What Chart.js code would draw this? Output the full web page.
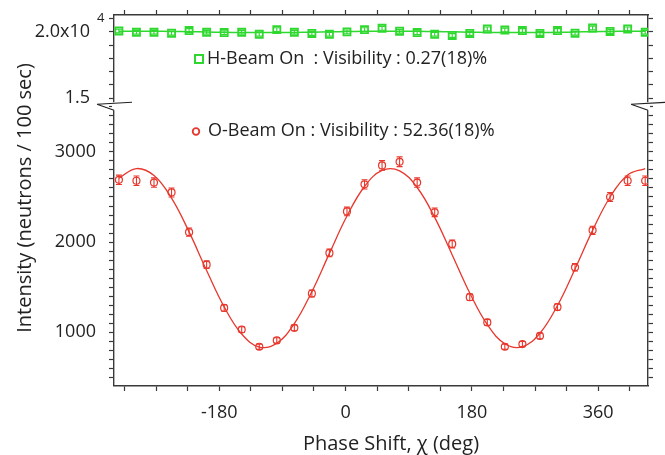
<!DOCTYPE html>
<html>
<head>
<meta charset="utf-8">
<script src="https://cdn.jsdelivr.net/npm/chart.js@4.4.1/dist/chart.umd.min.js"></script>
<style>
  html, body { margin: 0; padding: 0; background: #fff; overflow: hidden; }
  #wrap { position: relative; width: 665px; height: 455px; }
  canvas { display: block; }
</style>
</head>
<body>
<div id="wrap"><canvas id="chart" width="665" height="455"></canvas></div>
<script>
// phase shift positions (deg)
const phase = [-323, -298, -273, -248, -223, -198, -173, -148, -123, -98, -73, -48, -23, 2, 27, 52,
               77, 102, 127, 152, 177, 202, 227, 252, 277, 302, 327, 352, 377, 402, 427];

// O-beam counts / 100 sec
const oBeam = [2690, 2680, 2660, 2550, 2110, 1750, 1270, 1030, 840, 910, 1050, 1430, 1880, 2340, 2640, 2850,
               2890, 2660, 2330, 1980, 1390, 1110, 840, 870, 960, 1280, 1720, 2130, 2500, 2680, 2680];
const oBeamErr = [52, 52, 52, 50, 46, 42, 36, 32, 29, 30, 32, 38, 43, 48, 51, 53,
                  54, 52, 48, 44, 37, 33, 29, 29, 31, 36, 41, 46, 50, 52, 52];
// fitted curve read at the same phases
const oBeamFit = [2708, 2815, 2737, 2487, 2113, 1685, 1282, 981, 837, 879, 1097, 1451, 1875, 2289, 2616, 2794,
                  2790, 2605, 2274, 1858, 1435, 1085, 874, 840, 990, 1297, 1702, 2130, 2500, 2744, 2815];

// H-beam counts / 100 sec
const hBeam = [20060, 19960, 19960, 19890, 20090, 19960, 19940, 19960, 19810, 20160, 19960, 19870, 19810, 19990, 20160, 20260,
               20040, 19940, 19810, 19720, 19870, 20210, 20130, 20090, 19870, 20090, 19890, 20280, 20020, 20210, 19960];
const hBeamErr = [141, 141, 141, 141, 142, 141, 141, 141, 141, 142, 141, 141, 141, 141, 142, 142,
                  142, 141, 141, 140, 141, 142, 142, 142, 141, 142, 141, 142, 141, 142, 141];
const hBeamFit = [20038, 20044, 20040, 20026, 20006, 19982, 19961, 19944, 19936, 19939, 19951, 19970, 19993, 20015, 20033, 20043,
                  20043, 20033, 20015, 19992, 19969, 19950, 19938, 19937, 19945, 19961, 19983, 20007, 20027, 20040, 20044];

// tick labels
const xLabelTicks = [-180, 0, 180, 360];
const lowLabelTicks = [1000, 2000, 3000];
const topTicks = [15000, 16000, 17000, 18000, 19000, 20000, 21000];
const topLabelTicks = [15000, 20000];
const topLabelText = ['1.5', '2.0x10'];

const RED = '#e8372c';
const GREEN = '#2ed82e';
const AXIS = '#3a3a3a';
const FONT = 'Open Sans';

const pts = vals => phase.map((x, i) => ({ x: x, y: vals[i] }));

// fixed axis thickness, no automatic label padding
function fixSize(w, h) {
    return s => {
        if (w !== null) s.width = w;
        if (h !== null) s.height = h;
        s.paddingTop = 0; s.paddingBottom = 0; s.paddingLeft = 0; s.paddingRight = 0;
    };
}

function axisBase(extra) {
    return Object.assign({
        grid: { drawOnChartArea: false, drawTicks: true, tickLength: 5, color: AXIS, tickWidth: 1.2 },
        border: { display: true, color: AXIS, width: 1.4 }
    }, extra);
}

const blank = () => '';
const setTopTicks = s => { s.ticks = topTicks.map(v => ({ value: v })); };

const errorBars = {
    id: 'errorBars',
    afterDatasetsDraw(chart) {
        const ctx = chart.ctx;
        ctx.save();
        chart.data.datasets.forEach((ds, i) => {
            if (!ds.errors) return;
            const meta = chart.getDatasetMeta(i);
            const ys = chart.scales[ds.yAxisID];
            ctx.strokeStyle = ds.borderColor;
            ctx.lineWidth = 1.1;
            meta.data.forEach((p, j) => {
                const v = ds.data[j].y;
                const e = ds.errors[j];
                const y1 = ys.getPixelForValue(v + e);
                const y2 = ys.getPixelForValue(v - e);
                ctx.beginPath();
                ctx.moveTo(p.x, y1); ctx.lineTo(p.x, y2);
                ctx.moveTo(p.x - 3, y1); ctx.lineTo(p.x + 3, y1);
                ctx.moveTo(p.x - 3, y2); ctx.lineTo(p.x + 3, y2);
                ctx.stroke();
            });
        });
        ctx.restore();
    }
};

const decor = {
    id: 'decor',
    afterDraw(chart) {
        const ctx = chart.ctx;
        const a = chart.chartArea;
        const cut = chart.scales.yTop.bottom;
        ctx.save();

        // axis breaks
        [a.left, a.right].forEach(x => {
            ctx.fillStyle = '#fff';
            ctx.fillRect(x - 2, cut - 2, 4, 8);
            ctx.strokeStyle = '#222';
            ctx.lineWidth = 1.2;
            ctx.beginPath();
            ctx.moveTo(x - 17, cut);
            ctx.lineTo(x + 18, cut - 2);
            ctx.moveTo(x - 17, cut);
            ctx.lineTo(x, cut + 6);
            ctx.stroke();
        });

        ctx.fillStyle = '#222';
        // exponent of the top tick label
        ctx.font = '13px "' + FONT + '"';
        ctx.textAlign = 'left';
        ctx.textBaseline = 'alphabetic';
        ctx.fillText('4', 97, 22);

        // in-plot labels
        ctx.font = '18px "' + FONT + '"';
        ctx.textBaseline = 'middle';
        ctx.fillText('H-Beam On  : Visibility : 0.27(18)%', 207, 59);
        ctx.fillText('O-Beam On : Visibility : 52.36(18)%', 208, 131);
        ctx.strokeStyle = GREEN;
        ctx.lineWidth = 2;
        ctx.strokeRect(195, 55, 8, 8);
        ctx.strokeStyle = RED;
        ctx.lineWidth = 1.8;
        ctx.beginPath();
        ctx.arc(196, 131.5, 3.3, 0, Math.PI * 2);
        ctx.stroke();

        // axis titles
        ctx.font = '20px "' + FONT + '"';
        ctx.textAlign = 'center';
        ctx.textBaseline = 'alphabetic';
        ctx.fillText('Phase Shift, \u03c7 (deg)', 391, 450);
        ctx.translate(31, 198);
        ctx.rotate(-Math.PI / 2);
        ctx.fillText('Intensity (neutrons / 100 sec)', 0, 0);
        ctx.restore();
    }
};

const tickFont = { family: FONT, size: 18 };

new Chart(document.getElementById('chart'), {
    data: {
        datasets: [
            {
                type: 'line', label: 'H fit', data: pts(hBeamFit), xAxisID: 'x', yAxisID: 'yTop',
                borderColor: GREEN, borderWidth: 1.5, pointRadius: 0, tension: 0.4
            },
            {
                type: 'line', label: 'H-Beam On', data: pts(hBeam), errors: hBeamErr, xAxisID: 'x', yAxisID: 'yTop',
                showLine: false, pointStyle: 'rect', pointRadius: 5, borderColor: GREEN, borderWidth: 1.8,
                backgroundColor: 'rgba(0,0,0,0)'
            },
            {
                type: 'line', label: 'O fit', data: pts(oBeamFit), xAxisID: 'x', yAxisID: 'yLow',
                borderColor: RED, borderWidth: 1.3, pointRadius: 0, tension: 0.4
            },
            {
                type: 'line', label: 'O-Beam On', data: pts(oBeam), errors: oBeamErr, xAxisID: 'x', yAxisID: 'yLow',
                showLine: false, pointStyle: 'circle', pointRadius: 3.5, borderColor: RED, borderWidth: 1.2,
                backgroundColor: 'rgba(0,0,0,0)'
            }
        ]
    },
    options: {
        responsive: false,
        animation: false,
        devicePixelRatio: 1,
        layout: { padding: 0, autoPadding: false },
        plugins: { legend: { display: false }, tooltip: { enabled: false } },
        scales: {
            x: axisBase({
                type: 'linear', position: 'bottom', min: -330, max: 431,
                ticks: { stepSize: 45, includeBounds: false, autoSkip: false, maxRotation: 0, padding: 11,
                         color: '#222', font: tickFont,
                         callback: v => xLabelTicks.includes(v) ? String(v) : '' },
                afterFit: fixSize(null, 69)
            }),
            x2: axisBase({
                type: 'linear', axis: 'x', position: 'top', min: -330, max: 431,
                ticks: { stepSize: 45, includeBounds: false, autoSkip: false, maxRotation: 0, callback: blank },
                afterFit: fixSize(null, 15)
            }),
            yLow: axisBase({
                type: 'linear', axis: 'y', position: 'left', stack: 'left', stackWeight: 282, min: 405, max: 3528,
                ticks: { stepSize: 100, includeBounds: false, autoSkip: false, padding: 13, color: '#222', font: tickFont,
                         callback: v => lowLabelTicks.includes(v) ? String(v) : '' },
                afterFit: fixSize(114, null)
            }),
            yTop: axisBase({
                type: 'linear', axis: 'y', position: 'left', stack: 'left', stackWeight: 89.3, min: 14550, max: 21260,
                afterBuildTicks: setTopTicks,
                ticks: { autoSkip: false, padding: 19, color: '#222', font: tickFont,
                         callback: v => { const k = topLabelTicks.indexOf(v); return k >= 0 ? topLabelText[k] : ''; } },
                afterFit: fixSize(114, null)
            }),
            yTopR: axisBase({
                type: 'linear', axis: 'y', position: 'right', stack: 'right', stackWeight: 89.3, min: 14550, max: 21260,
                afterBuildTicks: setTopTicks,
                ticks: { autoSkip: false, callback: blank },
                afterFit: fixSize(17, null)
            }),
            yLowR: axisBase({
                type: 'linear', axis: 'y', position: 'right', stack: 'right', stackWeight: 282, min: 405, max: 3528,
                ticks: { stepSize: 100, includeBounds: false, autoSkip: false, callback: blank },
                afterFit: fixSize(17, null)
            })
        }
    },
    plugins: [errorBars, decor]
});
</script>
</body>
</html>
